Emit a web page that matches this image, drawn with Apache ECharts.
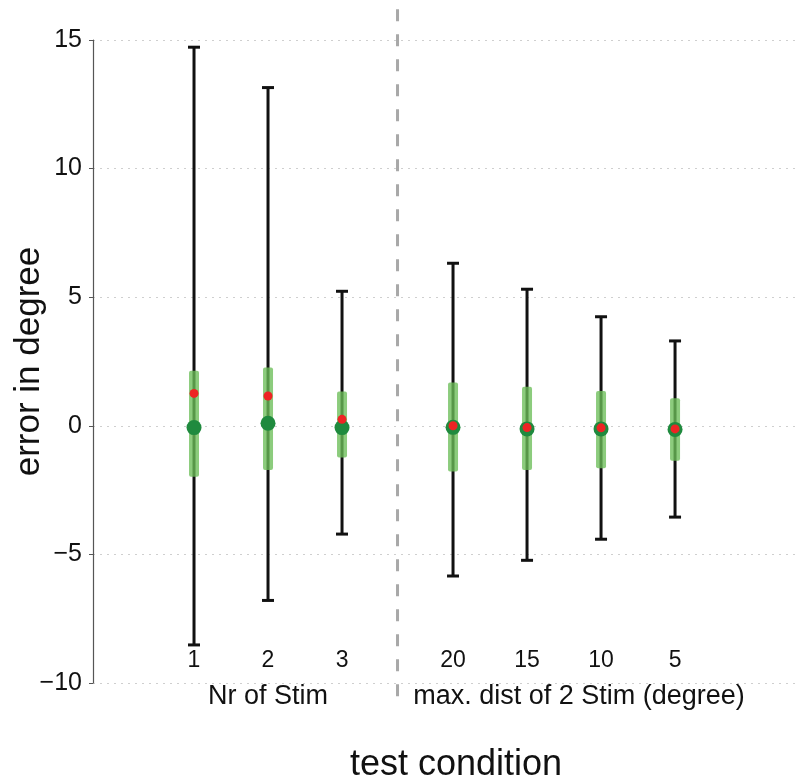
<!DOCTYPE html>
<html>
<head>
<meta charset="utf-8">
<script src="https://cdn.jsdelivr.net/npm/echarts@6/dist/echarts.min.js"></script>
<style>
html,body{margin:0;padding:0;background:#fff;}
#chart{width:799px;height:780px;}
</style>
</head>
<body>
<div id="chart"></div>
<script>
// ---- data ----
var conditionLabels = ['1', '2', '3', '20', '15', '10', '5'];
var conditionPos = [1, 2, 3, 4.5, 5.5, 6.5, 7.5];
var whiskerHigh = [14.72, 13.15, 5.23, 6.32, 5.31, 4.24, 3.30];
var whiskerLow = [-8.52, -6.79, -4.21, -5.84, -5.23, -4.41, -3.55];
var boxHigh = [2.14, 2.27, 1.33, 1.68, 1.52, 1.35, 1.07];
var boxLow = [-1.98, -1.72, -1.23, -1.78, -1.72, -1.65, -1.36];
var medianVals = [-0.07, 0.10, -0.07, -0.06, -0.12, -0.12, -0.14];
var meanVals = [1.26, 1.16, 0.25, 0.00, -0.07, -0.08, -0.12];
var dividerPos = 3.75;
var dividerRange = [16.2, -11];
var yTicks = [-10, -5, 0, 5, 10, 15];
var groupLabels = ['Nr of Stim', 'max. dist of 2 Stim (degree)'];

var FONT = '"Liberation Sans", Arial, Helvetica, sans-serif';

var whiskerData = conditionPos.map(function (x, i) { return [x, whiskerLow[i], whiskerHigh[i]]; });
var boxData = conditionPos.map(function (x, i) { return [x, boxLow[i], boxHigh[i]]; });
var medianData = conditionPos.map(function (x, i) { return [x, medianVals[i]]; });
var meanData = conditionPos.map(function (x, i) { return [x, meanVals[i]]; });

var chart = echarts.init(document.getElementById('chart'), null, { renderer: 'canvas' });

var option = {
  backgroundColor: '#ffffff',
  animation: false,
  grid: { left: 93, right: 0, top: 40, bottom: 97, containLabel: false, outerBoundsMode: 'none' },
  xAxis: {
    type: 'value',
    min: -0.365,
    max: 9.175,
    axisLine: { show: false },
    axisTick: { show: false },
    splitLine: { show: false },
    axisLabel: {
      show: true,
      inside: true,
      margin: 11,
      customValues: conditionPos,
      formatter: function (v) {
        var idx = conditionPos.indexOf(v);
        return idx >= 0 ? conditionLabels[idx] : '';
      },
      fontFamily: FONT,
      fontSize: 23,
      color: '#111'
    }
  },
  yAxis: {
    type: 'value',
    min: yTicks[0],
    max: yTicks[yTicks.length - 1],
    interval: 5,
    name: 'error in degree',
    nameLocation: 'middle',
    nameRotate: 90,
    nameGap: 46,
    nameMoveOverlap: false,
    nameTextStyle: { fontFamily: FONT, fontSize: 35, color: '#111' },
    axisLine: { show: true, onZero: false, lineStyle: { color: '#555', width: 1.2 } },
    axisTick: { show: true, length: 4, lineStyle: { color: '#555', width: 1 } },
    axisLabel: {
      margin: 11,
      fontFamily: FONT,
      fontSize: 25,
      color: '#111',
      formatter: function (v) { return v < 0 ? '\u2212' + Math.abs(v) : String(v); }
    },
    splitLine: { show: true, lineStyle: { color: '#cfcfcf', type: [2, 5], width: 1 } }
  },
  graphic: [
    { type: 'text', x: 268, y: 697, style: { text: groupLabels[0], font: '27px ' + FONT, fill: '#111', textAlign: 'center', textVerticalAlign: 'middle' } },
    { type: 'text', x: 579, y: 697, style: { text: groupLabels[1], font: '27px ' + FONT, fill: '#111', textAlign: 'center', textVerticalAlign: 'middle' } },
    { type: 'text', x: 456, y: 765, style: { text: 'test condition', font: '36px ' + FONT, fill: '#111', textAlign: 'center', textVerticalAlign: 'middle' } }
  ],
  series: [
    {
      type: 'line',
      data: [[dividerPos, dividerRange[0]], [dividerPos, dividerRange[1]]],
      symbol: 'none',
      clip: false,
      silent: true,
      lineStyle: { color: '#a8a8a8', width: 3, type: [12, 13] },
      z: 1
    },
    {
      type: 'custom',
      data: whiskerData,
      clip: false,
      z: 2,
      renderItem: function (params, api) {
        var x = api.value(0);
        var lo = api.coord([x, api.value(1)]);
        var hi = api.coord([x, api.value(2)]);
        var cap = 6;
        var style = { stroke: '#111', lineWidth: 3 };
        return {
          type: 'group',
          children: [
            { type: 'line', shape: { x1: lo[0], y1: lo[1], x2: hi[0], y2: hi[1] }, style: style },
            { type: 'line', shape: { x1: hi[0] - cap, y1: hi[1], x2: hi[0] + cap, y2: hi[1] }, style: style },
            { type: 'line', shape: { x1: lo[0] - cap, y1: lo[1], x2: lo[0] + cap, y2: lo[1] }, style: style }
          ]
        };
      }
    },
    {
      type: 'custom',
      data: boxData,
      z: 3,
      renderItem: function (params, api) {
        var x = api.value(0);
        var lo = api.coord([x, api.value(1)]);
        var hi = api.coord([x, api.value(2)]);
        var w = 10;
        return {
          type: 'rect',
          shape: { x: hi[0] - w / 2, y: hi[1], width: w, height: lo[1] - hi[1], r: 2 },
          style: { fill: 'rgba(108,190,88,0.78)' }
        };
      }
    },
    {
      type: 'scatter',
      data: medianData,
      symbol: 'circle',
      symbolSize: 15,
      itemStyle: { color: '#1f8a3e', opacity: 1 },
      z: 4
    },
    {
      type: 'scatter',
      data: meanData,
      symbol: 'circle',
      symbolSize: 9,
      itemStyle: { color: '#ee2424', opacity: 1 },
      z: 5
    }
  ]
};
chart.setOption(option);
</script>
</body>
</html>
